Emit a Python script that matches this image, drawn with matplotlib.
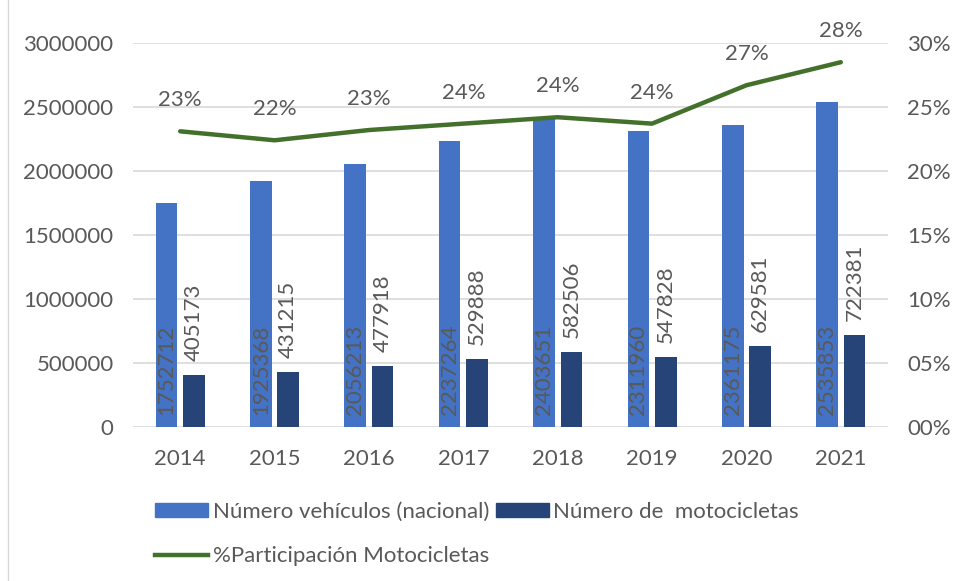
import numpy as np
import matplotlib
matplotlib.use('Agg')
from matplotlib import pyplot as plt
from matplotlib.patches import Patch
from matplotlib.lines import Line2D

plt.rcParams['font.family'] = ['Lato', 'DejaVu Sans']

years = ['2014', '2015', '2016', '2017', '2018', '2019', '2020', '2021']
vehiculos = [1752712, 1925368, 2056213, 2237264, 2403651, 2311960, 2361175, 2535853]
motos = [405173, 431215, 477918, 529888, 582506, 547828, 629581, 722381]
participacion = [23.1, 22.4, 23.2, 23.7, 24.2, 23.7, 26.7, 28.5]

c_veh = '#4472C4'
c_mot = '#264478'
c_line = '#43702B'
c_txt = '#595959'
fs = 16

fig = plt.figure(figsize=(9.55, 5.81), dpi=100)
ax = fig.add_axes([133/955, 1-427/581, 755/955, 384/581])
ax2 = ax.twinx()

x = np.arange(len(years))
w = 0.23
ax.bar(x - 0.145, vehiculos, w, color=c_veh, zorder=2)
ax.bar(x + 0.145, motos, w, color=c_mot, zorder=2)

# etiquetas de las barras
for xi, v in zip(x, vehiculos):
    ax.annotate(str(v), (xi - 0.145, 0), xytext=(0, 12), textcoords='offset pixels',
                rotation=90, ha='center', va='bottom', color=c_txt, fontsize=fs)
for xi, v in zip(x, motos):
    ax.annotate(str(v), (xi + 0.145, v), xytext=(0, 14), textcoords='offset pixels',
                rotation=90, ha='center', va='bottom', color=c_txt, fontsize=fs)

ax.set_ylim(0, 3000000)
ax.set_yticks(np.arange(0, 3000001, 500000))
ax.set_yticklabels([str(int(t)) for t in np.arange(0, 3000001, 500000)])
ax.set_xlim(-0.5, len(years) - 0.5)
ax.set_xticks(x)
ax.set_xticklabels(years)
ax.grid(axis='y', color='#D9D9D9', linewidth=1.2, zorder=0)
ax.set_axisbelow(True)

ax2.plot(x, participacion, color=c_line, linewidth=3.2, solid_capstyle='round', zorder=3)
for xi, p in zip(x, participacion):
    ax2.annotate(f'{round(p)}%', (xi, p), xytext=(0, 31), textcoords='offset pixels',
                 ha='center', va='center', color=c_txt, fontsize=fs)
ax2.set_ylim(0, 30)
ax2.set_yticks(np.arange(0, 31, 5))
ax2.set_yticklabels([f'{t:02d}%' for t in range(0, 31, 5)])

for a in (ax, ax2):
    for s in a.spines.values():
        s.set_visible(False)
    a.tick_params(length=0, labelsize=fs, colors=c_txt, pad=14)
ax.tick_params(axis='x', pad=16)

handles = [Patch(color=c_veh), Line2D([], [], color=c_line, linewidth=3.2),
           Patch(color=c_mot)]
labels = ['Número vehículos (nacional)', '%Participación Motocicletas',
          'Número de  motocicletas']
fig.legend(handles, labels, ncol=2, loc='upper left', bbox_to_anchor=(146/955, 1-493/581),
           frameon=False, fontsize=fs, labelcolor=c_txt, handlelength=2.4,
           handleheight=0.6, handletextpad=0.2, columnspacing=0.3, labelspacing=1.1,
           borderaxespad=0)

fig.add_artist(plt.Line2D([8/955, 8/955], [0, 1], color='#D9D9D9', linewidth=1,
                          transform=fig.transFigure))

fig.savefig('out.png', dpi=100)
